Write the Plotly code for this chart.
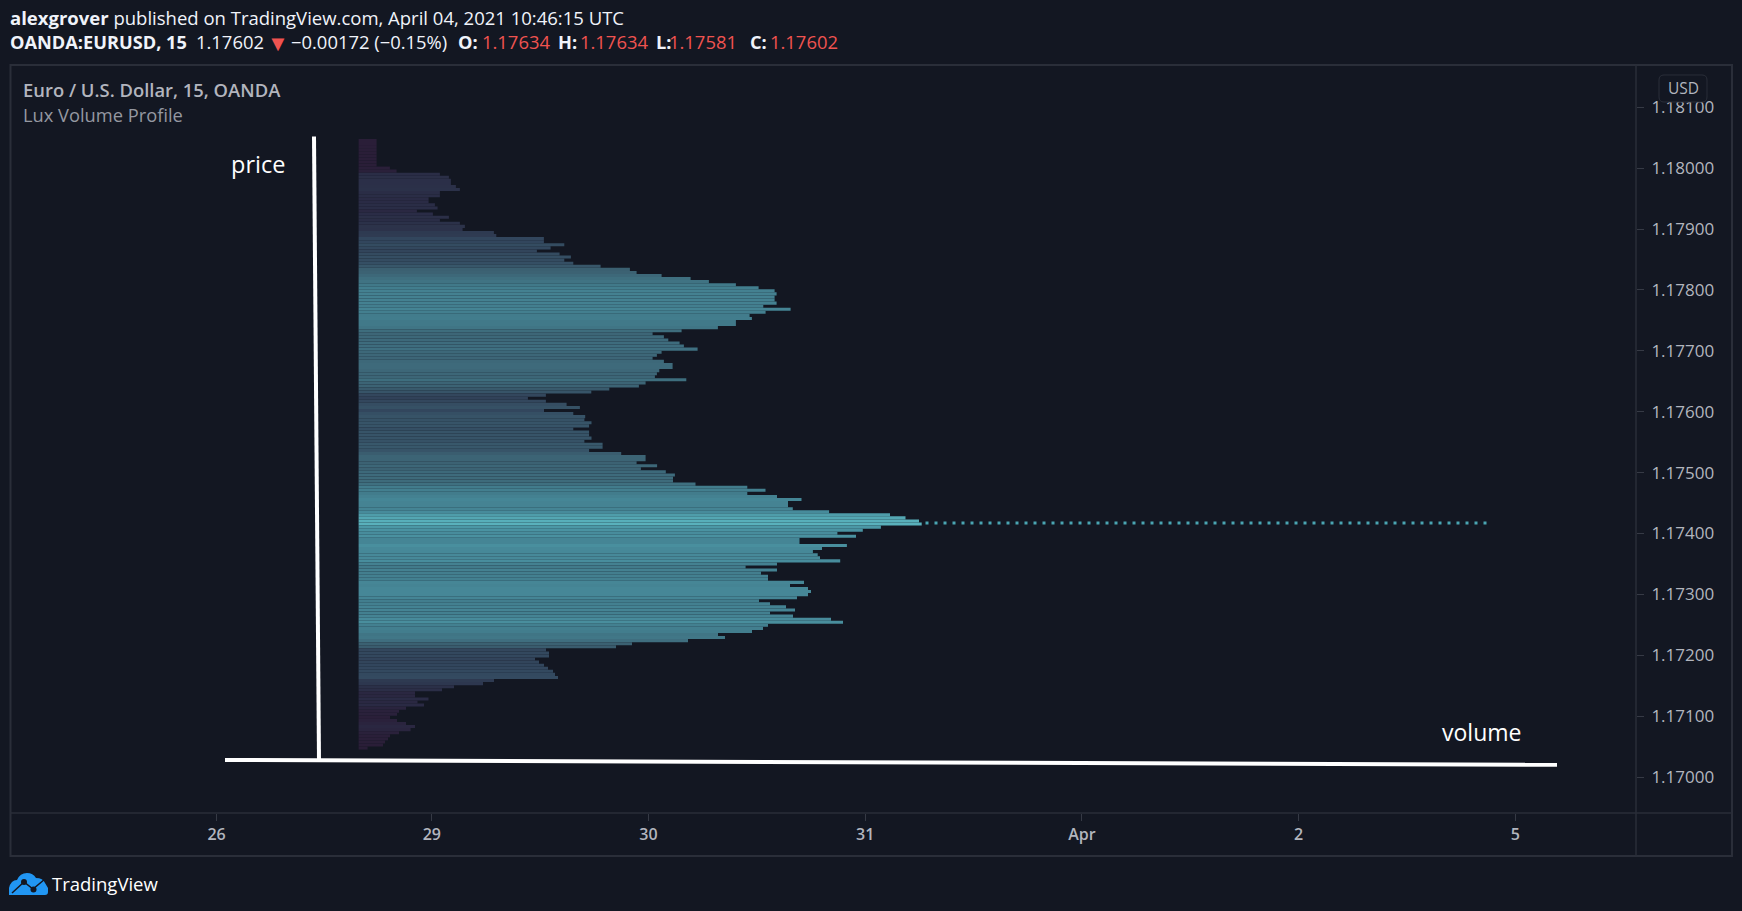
import plotly.graph_objects as go

# Figure geometry in pixels
W, H = 1742, 911
PLOT_L, PLOT_R, PLOT_T, PLOT_B = 11, 1636, 66, 813

BG = "#131722"
FRAME = "#2a2e39"
TEXT = "#b2b5be"
MUTED = "#9598a1"
RED = "#ef5350"

# Session axis
session_pos = [0, 0.993, 1.993, 2.993, 3.993, 4.993, 5.993]
session_labels = ["26", "29", "30", "31", "Apr", "2", "5"]

# Price axis
price_ticks = [1.181, 1.180, 1.179, 1.178, 1.177, 1.176, 1.175, 1.174, 1.173, 1.172, 1.171, 1.170]
price_labels = ["%.5f" % p for p in price_ticks]

# Profile rows, from the top price level down
price_top = 1.180455
row_step = 0.0000504
row_volume = [
    18, 18, 18, 18, 18, 18, 18, 18, 18, 31.3, 38, 81.3, 90.3, 92.3, 92.3, 97.3, 101.3, 81.3, 81.3, 70,
    70, 76.3, 79, 58.3, 74.3, 90.3, 81.3, 101.3, 106.3, 104, 135.3, 137.7, 185.3, 185.3, 205.7, 192, 178.3, 201, 212.3, 205.7,
    214.7, 242, 271.3, 278, 303, 332, 350.3, 377.3, 400, 416, 418, 416, 416, 418, 404.7, 432, 407, 391, 393.3, 377.3,
    377.3, 359.3, 323, 294, 305.3, 309.7, 321, 325.3, 339, 303, 298.3, 294, 305.3, 314, 314, 300.7, 298.3, 296.3, 327.7, 287,
    280.3, 250.7, 232.7, 187.3, 169.3, 187.3, 208, 221.3, 185.4, 214.7, 226.6, 225.8, 232.9, 230.5, 214.7, 230.5, 230.5, 232.9, 225.8, 244,
    244, 230.5, 262.6, 287, 287, 278, 298.5, 282.3, 307.2, 316.3, 314.4, 314.4, 336.9, 388.7, 406.9, 388.7, 418.4, 442.9, 429.4, 429.4,
    434.2, 470.5, 531.4, 546.9, 560.4, 563.1, 522.3, 504.2, 478.8, 497.4, 440.9, 440.9, 488.3, 463.4, 454.3, 459.1, 461.4, 481.6, 418.4, 387,
    418.4, 402.4, 409.4, 409.4, 445.4, 431.4, 449.4, 452.4, 449.4, 438.4, 400.4, 411.4, 427.4, 436.4, 411.4, 434.4, 472.4, 484.4, 409.4, 404.4,
    393.4, 359.4, 366.4, 329.4, 273.4, 257.4, 187.4, 190.4, 190.4, 176.4, 180.4, 185.4, 189.4, 194.4, 196.4, 199.4, 135.4, 124.4, 95.4, 83.4,
    56.4, 56.4, 69.9, 58.9, 65.4, 47.4, 40.4, 38.4, 31.4, 38.4, 47.4, 56.4, 52, 40.4, 31.4, 29.4, 26.4, 24.4, 9,
]
row_price = [price_top - i * row_step for i in range(len(row_volume))]

# Point of control: the busiest level, carried to the right as a dotted line
poc_price = 1.174174
poc_volume = [566.9, 1131]

# Hand-drawn axes, in volume units and price
price_stroke_volume = [-44.6, -39.6]
price_stroke_price = [1.18052, 1.17028]
volume_stroke_volume = [-133.6, 1198.4]
volume_stroke_price = [1.17028, 1.17020]

PROFILE_LEFT = 358.6


def px(x):
    return x / W


def py(y):
    return 1 - y / H


def note(x, y, text, size=16, color=TEXT, xanchor="left", weight="normal"):
    return dict(
        x=px(x), y=py(y), xref="paper", yref="paper", text=text, showarrow=False,
        xanchor=xanchor, yanchor="middle", align="left", borderpad=0,
        font=dict(family="Open Sans", size=size, color=color, weight=weight),
    )


def path(cmds):
    out = []
    for c in cmds:
        if isinstance(c, str):
            out.append(c)
        else:
            out.append("%.6f,%.6f" % (px(c[0]), py(c[1])))
    return " ".join(out)


fig = go.Figure()

# Empty trace that keeps the session axis alive
fig.add_trace(go.Scatter(x=session_pos, y=[None] * len(session_pos), xaxis="x", yaxis="y",
                         mode="lines", hoverinfo="skip", showlegend=False))

fig.add_trace(go.Bar(
    x=row_volume, y=row_price, base=0, orientation="h", xaxis="x2", yaxis="y", width=row_step,
    marker=dict(
        color=row_volume, cmin=0, cmax=max(row_volume), line_width=0,
        colorscale=[
            [0.0, "#291d36"], [0.06, "#2a1f39"], [0.12, "#2a2b45"], [0.17, "#2b3048"], [0.34, "#33485e"],
            [0.5, "#3c6374"], [0.7, "#427d8d"], [0.85, "#488c9c"], [0.93, "#4c98a6"], [1.0, "#59b1bc"],
        ],
    ),
    showlegend=False, hoverinfo="skip",
))

fig.add_trace(go.Scatter(
    x=poc_volume, y=[poc_price, poc_price], xaxis="x2", yaxis="y", mode="lines",
    line=dict(color="#4aa5b2", width=3, dash="3px,6px"), showlegend=False, hoverinfo="skip",
))

for xs, ys in ((price_stroke_volume, price_stroke_price), (volume_stroke_volume, volume_stroke_price)):
    fig.add_trace(go.Scatter(x=xs, y=ys, xaxis="x2", yaxis="y", mode="lines",
                             line=dict(color="#ffffff", width=4), showlegend=False, hoverinfo="skip"))

shapes = [
    # Chart frame
    dict(type="rect", xref="paper", yref="paper", x0=px(10.5), x1=px(1732), y0=py(65), y1=py(856),
         line=dict(color=FRAME, width=2), layer="below"),
    dict(type="line", xref="paper", yref="paper", x0=px(1636), x1=px(1636), y0=py(65), y1=py(856),
         line=dict(color=FRAME, width=1.5)),
    dict(type="line", xref="paper", yref="paper", x0=px(10.5), x1=px(1732), y0=py(813), y1=py(813),
         line=dict(color=FRAME, width=1.5)),
    # Currency badge
    dict(type="path", xref="paper", yref="paper",
         path=path(["M", (1664, 75), "L", (1702, 75), "Q", (1707, 75), (1707, 80), "L", (1707, 97),
                    "Q", (1707, 102), (1702, 102), "L", (1664, 102), "Q", (1659, 102), (1659, 97),
                    "L", (1659, 80), "Q", (1659, 75), (1664, 75), "Z"]),
         fillcolor=BG, line=dict(color=FRAME, width=1), layer="above"),
    # TradingView logo: cloud, with the chart line across it
    dict(type="path", xref="paper", yref="paper",
         path=path(["M", (9, 895), "L", (9, 888), "Q", (11, 880), (17, 880), "Q", (20, 873), (27, 873),
                    "Q", (33, 873), (36, 878), "Q", (43, 878), (45, 883), "L", (48, 888),
                    "L", (48, 892), "Q", (48, 895), (45, 895), "Z"]),
         fillcolor="#2196f3", line=dict(width=0), layer="above"),
    dict(type="path", xref="paper", yref="paper",
         path=path(["M", (12, 893), "L", (24, 882), "L", (33, 889), "L", (45, 879)]),
         line=dict(color=BG, width=1.5), layer="above"),
    dict(type="circle", xref="paper", yref="paper", x0=px(21), x1=px(27), y0=py(879), y1=py(885),
         fillcolor=BG, line=dict(width=0), layer="above"),
    dict(type="circle", xref="paper", yref="paper", x0=px(30.5), x1=px(36.5), y0=py(886.5), y1=py(892.5),
         fillcolor=BG, line=dict(width=0), layer="above"),
]

HEAD_Y = 42
annotations = [
    note(9, 17, "<b>alexgrover</b> published on TradingView.com, April 04, 2021 10:46:15 UTC", 18.5, "#f0f3fa"),
    note(9, HEAD_Y, "<b>OANDA:EURUSD, 15</b>", 18.2, "#f0f3fa"),
    note(195, HEAD_Y, "1.17602", 18.4, "#f0f3fa"),
    note(277.5, HEAD_Y, "▼", 22, RED, "center"),
    note(289.5, HEAD_Y, "−0.00172 (−0.15%)", 18.4, "#f0f3fa"),
    note(457, HEAD_Y, "<b>O:</b>", 18.2, "#f0f3fa"),
    note(480.5, HEAD_Y, "1.17634", 18.4, RED),
    note(557, HEAD_Y, "<b>H:</b>", 18.2, "#f0f3fa"),
    note(578.5, HEAD_Y, "1.17634", 18.4, RED),
    note(655, HEAD_Y, "<b>L:</b>", 18.2, "#f0f3fa"),
    note(668, HEAD_Y, "1.17581", 18.4, RED),
    note(749, HEAD_Y, "<b>C:</b>", 18.2, "#f0f3fa"),
    note(769, HEAD_Y, "1.17602", 18.4, RED),
    note(22, 90, "Euro / U.S. Dollar, 15, OANDA", 18.4, TEXT, weight=600),
    note(22, 115, "Lux Volume Profile", 18.3, MUTED),
    note(258, 164, "price", 23.5, "#ffffff", "center"),
    note(1481, 732, "volume", 23, "#ffffff", "center"),
    note(1683, 88, "USD", 15.5, TEXT, "center"),
    note(51, 883, "TradingView", 18.5, "#ffffff"),
]

fig.update_layout(
    width=W, height=H, autosize=False,
    margin=dict(l=0, r=0, t=0, b=0),
    paper_bgcolor=BG, plot_bgcolor=BG,
    barmode="overlay", showlegend=False,
    font=dict(family="Open Sans", color=TEXT),
    shapes=shapes, annotations=annotations,
    xaxis=dict(
        domain=[PLOT_L / W, PLOT_R / W], range=[-0.9488, 6.5501],
        tickmode="array", tickvals=session_pos, ticktext=session_labels,
        ticks="outside", ticklen=7, tickwidth=1, tickcolor="#363a45",
        tickfont=dict(family="Open Sans", size=16, color=TEXT, weight=600),
        showgrid=False, zeroline=False, showline=False, anchor="y", fixedrange=True,
    ),
    xaxis2=dict(
        domain=[PLOT_L / W, PLOT_R / W], range=[PLOT_L - PROFILE_LEFT, PLOT_R - PROFILE_LEFT],
        overlaying="x", anchor="y", visible=False, fixedrange=True,
    ),
    yaxis=dict(
        domain=[1 - PLOT_B / H, 1 - PLOT_T / H], range=[1.169409, 1.181678], side="right", anchor="x",
        tickmode="array", tickvals=price_ticks, ticktext=price_labels,
        ticks="outside", ticklen=7, tickwidth=1, tickcolor="#363a45", ticklabelstandoff=4,
        tickfont=dict(family="Open Sans", size=17, color=TEXT),
        showgrid=False, zeroline=False, showline=False, fixedrange=True,
    ),
)

fig.write_html("out.html", config=dict(displayModeBar=False))
